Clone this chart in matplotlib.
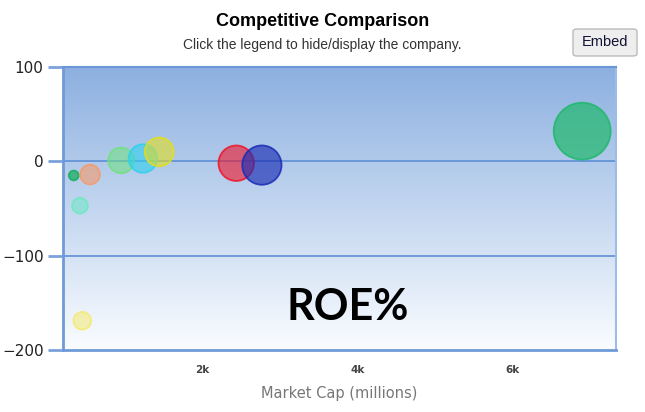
import numpy as np
import matplotlib
matplotlib.use('Agg')
import matplotlib.pyplot as plt
from matplotlib.patches import FancyBboxPatch

# bubble data (market cap in millions, ROE %, bubble size)
market_cap = [350, 560, 430, 460, 960, 1240, 1450, 2440, 2770, 6890]
roe = [-15, -14, -47, -169, 1, 3, 10, -2, -4, 32]
bubble_size = [25, 100, 64, 81, 170, 210, 215, 325, 400, 840]
colors = ['#1aae62', '#f59a6a', '#6ee8c4', '#f5ea70', '#6ee27e',
          '#2fd0ee', '#e2df1e', '#f01428', '#1a2db4', '#1fb86c']
fill_alpha = [0.75, 0.6, 0.55, 0.55, 0.55, 0.6, 0.6, 0.6, 0.65, 0.7]

x_ticks = [2000, 4000, 6000]
x_tick_labels = ['2k', '4k', '6k']
y_ticks = [100, 0, -100, -200]

W, H = 645, 412
fig = plt.figure(figsize=(W / 100, H / 100), dpi=100)
ax = fig.add_axes([63 / W, 1 - 350 / H, (616 - 63) / W, (350 - 67) / H])

xmin, xmax = 212, 7325
ymin, ymax = -200, 100
ax.set_xlim(xmin, xmax)
ax.set_ylim(ymin, ymax)

# gradient background
grad = np.linspace(0, 1, 256)[:, None]
top = np.array([0.55, 0.69, 0.88])
bottom = np.array([0.98, 0.99, 1.0])
img = top[None, None, :] * (1 - grad[:, :, None]) + bottom[None, None, :] * grad[:, :, None]
ax.imshow(img, extent=[xmin, xmax, ymin, ymax], aspect='auto', zorder=0)

for y in [100, 0, -100]:
    ax.axhline(y, color='#5e8fd6', lw=1.2, zorder=1)

# bubbles
for x, y, s, c, a in zip(market_cap, roe, bubble_size, colors, fill_alpha):
    ax.scatter(x, y, s=s * 2.0, color=c, alpha=a, edgecolors='none', zorder=3)
    ax.scatter(x, y, s=s * 2.0, facecolors='none', edgecolors=c, linewidths=1.3,
               alpha=0.85, zorder=3)

ax.text(0.515, 0.105, 'ROE%', transform=ax.transAxes, ha='center', va='baseline',
        fontsize=31, fontweight='bold', family='Lato', color='black', zorder=4)

for side in ['left', 'bottom']:
    ax.spines[side].set_color('#6f9ad8')
    ax.spines[side].set_linewidth(2)
ax.spines['top'].set_color('#6a95d6')
ax.spines['top'].set_linewidth(1.5)
ax.spines['right'].set_color('#9dbce8')
ax.spines['right'].set_linewidth(1.5)

ax.set_yticks(y_ticks)
ax.set_yticklabels([str(v).replace('-', '\u2212') for v in y_ticks], fontsize=11,
                   color='#222222')
ax.tick_params(axis='y', length=11, width=2, color='#7aa2dc', pad=3)
ax.set_xticks(x_ticks)
ax.set_xticklabels(x_tick_labels, fontsize=7.5, color='#444444', fontweight='bold')
ax.tick_params(axis='x', length=0, pad=11)
ax.set_xlabel('Market Cap (millions)', fontsize=10.5, color='#777777', labelpad=8)

fig.text(0.5, 1 - 21 / H, 'Competitive Comparison', ha='center', va='center',
         fontsize=13, fontweight='bold', family='Liberation Sans', color='black')
fig.text(0.5, 1 - 45 / H, 'Click the legend to hide/display the company.', ha='center',
         va='center', fontsize=10, family='Liberation Sans', color='#333333')

# embed button
btn = FancyBboxPatch((573 / W, 1 - 56 / H), 64 / W, 27 / H,
                     boxstyle='round,pad=0,rounding_size=0.006',
                     transform=fig.transFigure, facecolor='#eeeeee',
                     edgecolor='#bbbbbb', lw=1)
fig.patches.append(btn)
fig.text(605 / W, 1 - 42 / H, 'Embed', ha='center', va='center', fontsize=10.5,
         family='Liberation Sans', color='#111133')

fig.savefig('out.png', dpi=100)
